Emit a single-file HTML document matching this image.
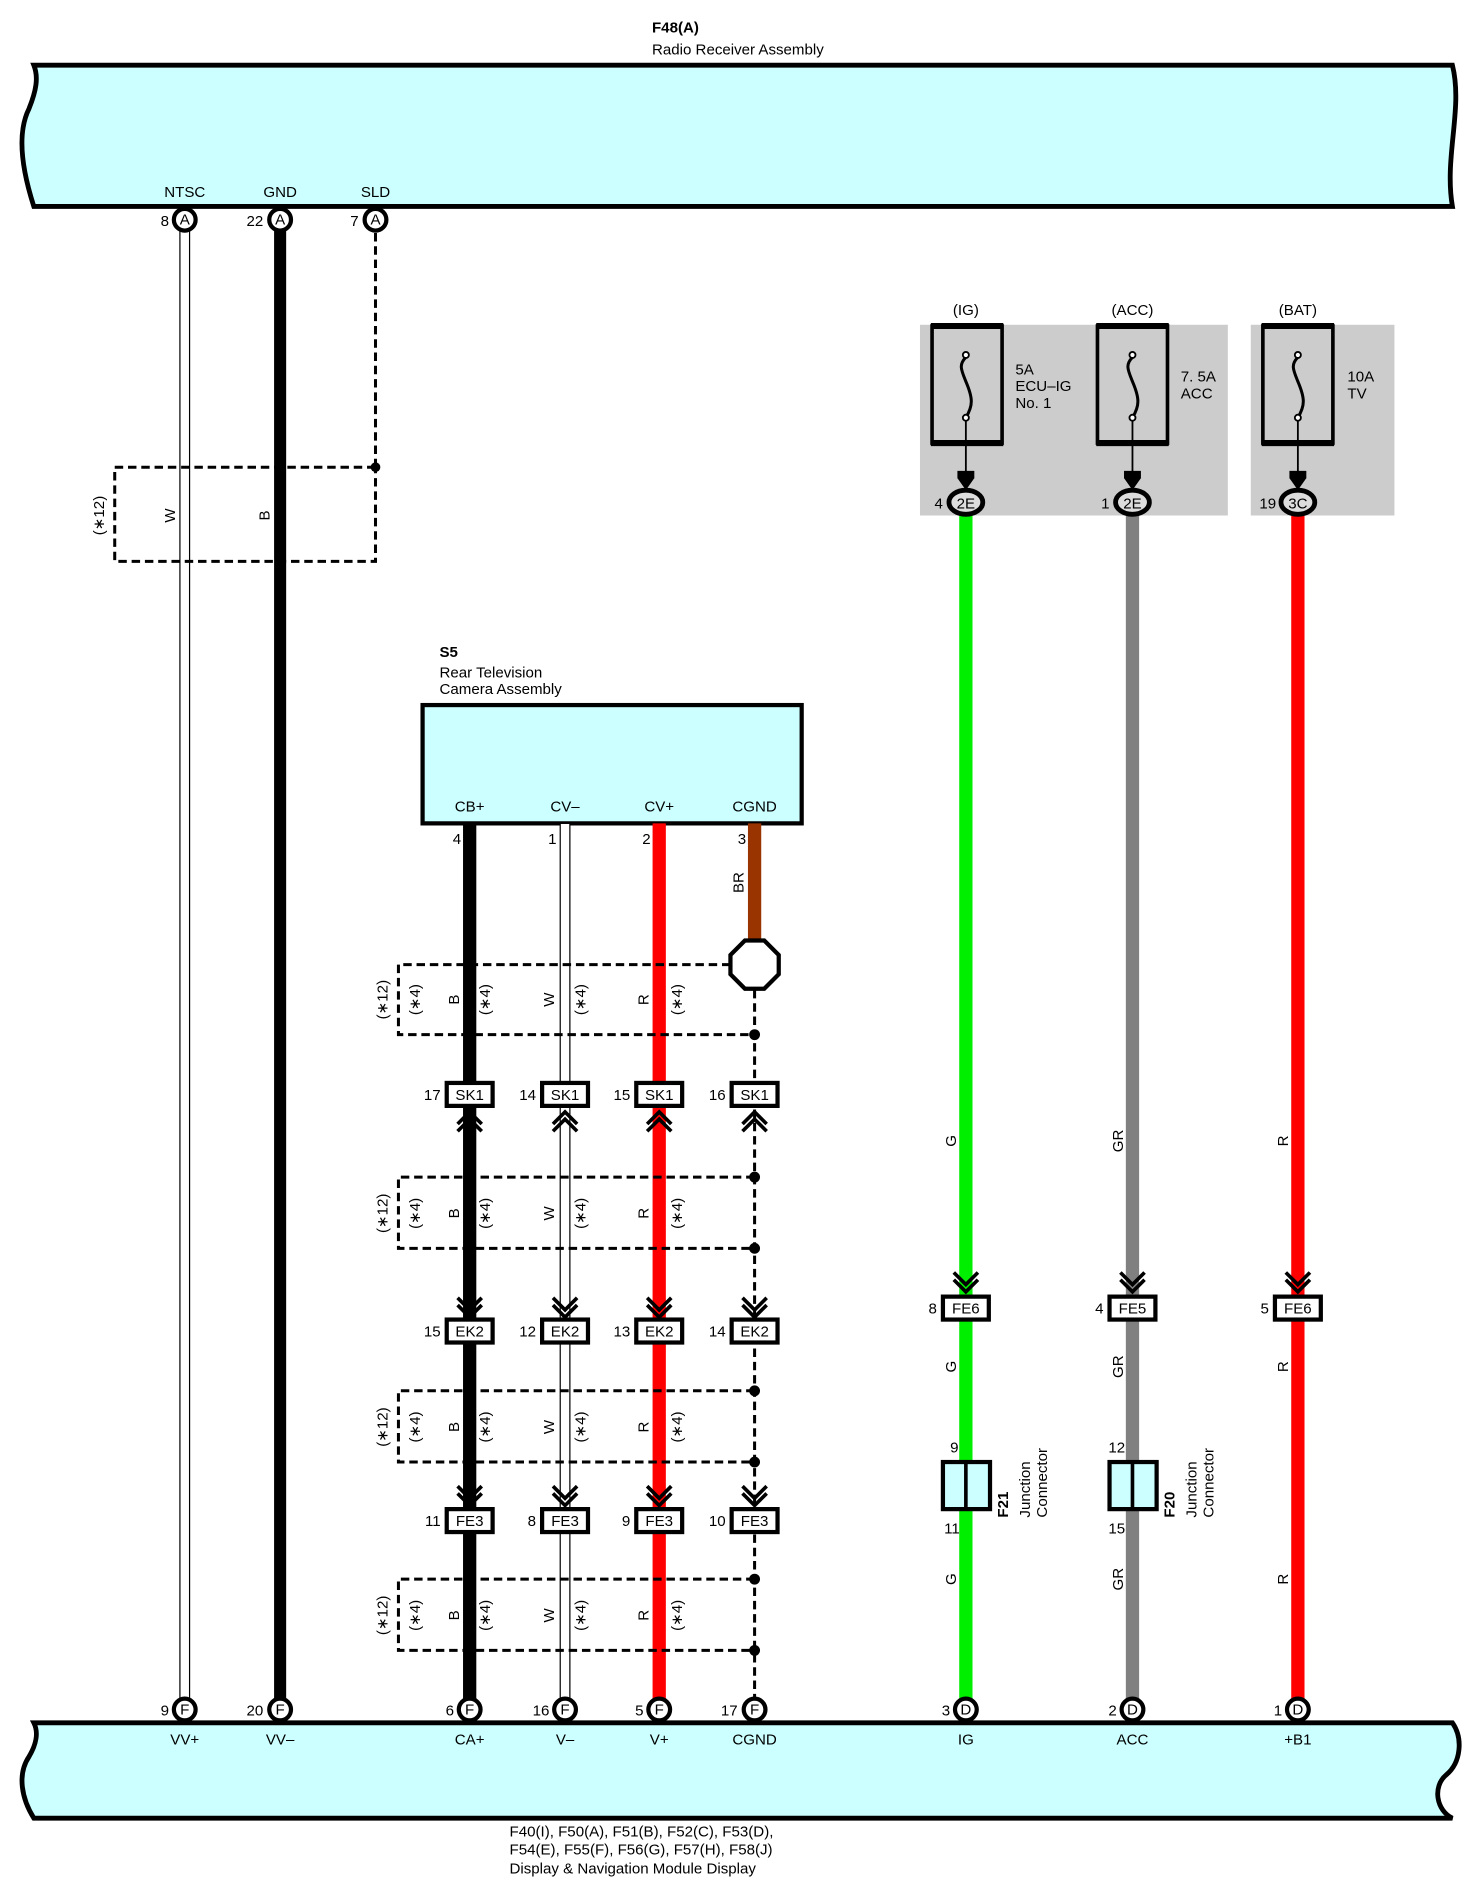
<!DOCTYPE html>
<html><head><meta charset="utf-8"><style>
html,body{margin:0;padding:0;background:#fff}
svg{display:block}
text{font-family:"Liberation Sans",sans-serif;font-size:12.5px;fill:#000}
.b{font-weight:bold}
.ds{stroke:#000;stroke-width:2.5;stroke-dasharray:7,4;fill:none}
.cn{fill:#fff;stroke:#000;stroke-width:3.5}
.ch{fill:none;stroke:#000;stroke-width:3}
</style></head><body>
<svg width="1479" height="1887" viewBox="0 0 1225 1563" xmlns="http://www.w3.org/2000/svg">
<!-- top box -->
<path d="M28,54 L1203,54 C1212,90 1196,130 1203,171 L28,171 C18,140 14,110 24,90 C30,75 32,64 28,54 Z" fill="#ccffff" stroke="#000" stroke-width="4"/>
<text x="540" y="27" class="b" font-size="13">F48(A)</text>
<text x="540" y="45">Radio Receiver Assembly</text>
<text x="153" y="163" text-anchor="middle">NTSC</text>
<text x="232" y="163" text-anchor="middle">GND</text>
<text x="311" y="163" text-anchor="middle">SLD</text>

<!-- bottom box -->
<path d="M28,1427 L1203,1427 C1212,1440 1210,1460 1198,1470 C1186,1480 1190,1500 1203,1506 L28,1506 C18,1490 14,1470 24,1455 C30,1445 32,1435 28,1427 Z" fill="#ccffff" stroke="#000" stroke-width="4"/>
<g text-anchor="middle">
<text x="153" y="1445">VV+</text><text x="232" y="1445">VV–</text><text x="389" y="1445">CA+</text><text x="468" y="1445">V–</text><text x="546" y="1445">V+</text><text x="625" y="1445">CGND</text><text x="800" y="1445">IG</text><text x="938" y="1445">ACC</text><text x="1075" y="1445">+B1</text>
</g>
<text x="422" y="1521">F40(I), F50(A), F51(B), F52(C), F53(D),</text>
<text x="422" y="1536">F54(E), F55(F), F56(G), F57(H), F58(J)</text>
<text x="422" y="1552">Display &amp; Navigation Module Display</text>

<!-- left wires -->
<rect x="149" y="182" width="8" height="1234" fill="#fff" stroke="#000" stroke-width="1"/>
<line x1="232" y1="182" x2="232" y2="1416" stroke="#000" stroke-width="10"/>
<line x1="311" y1="182" x2="311" y2="387" class="ds"/>
<path d="M311,387 L95,387 L95,465 L311,465 L311,387" class="ds"/>
<circle cx="311" cy="387" r="4"/>
<text transform="translate(86,427) rotate(-90)" text-anchor="middle">(∗12)</text>
<text transform="translate(145,427) rotate(-90)" text-anchor="middle">W</text>
<text transform="translate(223,427) rotate(-90)" text-anchor="middle">B</text>

<!-- fuses -->
<rect x="762" y="269" width="255" height="158" fill="#cccccc"/>
<rect x="1036" y="269" width="119" height="158" fill="#cccccc"/>
<g text-anchor="middle"><text x="800" y="261">(IG)</text><text x="938" y="261">(ACC)</text><text x="1075" y="261">(BAT)</text></g>
<g fill="none" stroke="#000">
<rect x="772" y="270" width="58" height="97" stroke-width="3"/><line x1="771" y1="270" x2="831" y2="270" stroke-width="5"/><line x1="771" y1="367" x2="831" y2="367" stroke-width="5"/>
<rect x="909" y="270" width="58" height="97" stroke-width="3"/><line x1="908" y1="270" x2="968" y2="270" stroke-width="5"/><line x1="908" y1="367" x2="968" y2="367" stroke-width="5"/>
<rect x="1046" y="270" width="58" height="97" stroke-width="3"/><line x1="1045" y1="270" x2="1105" y2="270" stroke-width="5"/><line x1="1045" y1="367" x2="1105" y2="367" stroke-width="5"/>
<path d="M800,296 C794,302 796,306 800,316 C806,330 806,336 800,346" stroke-width="2.5"/>
<path d="M938,296 C932,302 934,306 938,316 C944,330 944,336 938,346" stroke-width="2.5"/>
<path d="M1075,296 C1069,302 1071,306 1075,316 C1081,330 1081,336 1075,346" stroke-width="2.5"/>
<line x1="800" y1="346" x2="800" y2="395" stroke-width="1.5"/><line x1="938" y1="346" x2="938" y2="395" stroke-width="1.5"/><line x1="1075" y1="346" x2="1075" y2="395" stroke-width="1.5"/>
</g>
<g fill="#fff" stroke="#000" stroke-width="1.5"><circle cx="800" cy="294" r="2.5"/><circle cx="800" cy="346" r="2.5"/><circle cx="938" cy="294" r="2.5"/><circle cx="938" cy="346" r="2.5"/><circle cx="1075" cy="294" r="2.5"/><circle cx="1075" cy="346" r="2.5"/></g>
<g><path d="M793,390 L807,390 L807,396 L800,406 L793,396Z"/><path d="M931,390 L945,390 L945,396 L938,406 L931,396Z"/><path d="M1068,390 L1082,390 L1082,396 L1075,406 L1068,396Z"/></g>
<text x="841" y="310">5A</text><text x="841" y="324">ECU–IG</text><text x="841" y="338">No. 1</text>
<text x="978" y="316">7. 5A</text><text x="978" y="330">ACC</text>
<text x="1116" y="316">10A</text><text x="1116" y="330">TV</text>

<!-- right wires -->
<line x1="800" y1="416" x2="800" y2="1416" stroke="#00ee00" stroke-width="11"/>
<line x1="938" y1="416" x2="938" y2="1416" stroke="#808080" stroke-width="11"/>
<line x1="1075" y1="416" x2="1075" y2="1416" stroke="#ff0000" stroke-width="11"/>
<g fill="#ddd" stroke="#000" stroke-width="4"><ellipse cx="800" cy="416" rx="14" ry="10"/><ellipse cx="938" cy="416" rx="14" ry="10"/><ellipse cx="1075" cy="416" rx="14" ry="10"/></g>
<g text-anchor="middle"><text x="800" y="421">2E</text><text x="938" y="421">2E</text><text x="1075" y="421">3C</text></g>
<text x="781" y="421" text-anchor="end">4</text><text x="919" y="421" text-anchor="end">1</text><text x="1057" y="421" text-anchor="end">19</text>
<g text-anchor="middle">
<text transform="translate(792,945) rotate(-90)">G</text><text transform="translate(930,945) rotate(-90)">GR</text><text transform="translate(1067,945) rotate(-90)">R</text>
<text transform="translate(792,1132) rotate(-90)">G</text><text transform="translate(930,1132) rotate(-90)">GR</text><text transform="translate(1067,1132) rotate(-90)">R</text>
<text transform="translate(792,1308) rotate(-90)">G</text><text transform="translate(930,1308) rotate(-90)">GR</text><text transform="translate(1067,1308) rotate(-90)">R</text>
</g>
<!-- FE6/FE5 -->
<g class="ch"><path d="M790,1054 L800,1064 L810,1054 M790,1060 L800,1070 L810,1060"/><path d="M928,1054 L938,1064 L948,1054 M928,1060 L938,1070 L948,1060"/><path d="M1065,1054 L1075,1064 L1085,1054 M1065,1060 L1075,1070 L1085,1060"/></g>
<g class="cn"><rect x="781" y="1074" width="38" height="19"/><rect x="919" y="1074" width="38" height="19"/><rect x="1056" y="1074" width="38" height="19"/></g>
<g text-anchor="middle"><text x="800" y="1088">FE6</text><text x="938" y="1088">FE5</text><text x="1075" y="1088">FE6</text></g>
<text x="776" y="1088" text-anchor="end">8</text><text x="914" y="1088" text-anchor="end">4</text><text x="1051" y="1088" text-anchor="end">5</text>
<!-- junction -->
<g fill="#ccffff" stroke="#000" stroke-width="3.5"><rect x="781" y="1211" width="39" height="39"/><rect x="919" y="1211" width="39" height="39"/></g>
<line x1="800" y1="1211" x2="800" y2="1250" stroke="#000" stroke-width="3"/><line x1="938" y1="1211" x2="938" y2="1250" stroke="#000" stroke-width="3"/>
<text x="787" y="1203">9</text><text x="782" y="1270">11</text><text x="918" y="1203">12</text><text x="918" y="1270">15</text>
<text transform="translate(835,1257) rotate(-90)" class="b">F21</text><text transform="translate(853,1257) rotate(-90)">Junction</text><text transform="translate(867,1257) rotate(-90)">Connector</text>
<text transform="translate(973,1257) rotate(-90)" class="b">F20</text><text transform="translate(991,1257) rotate(-90)">Junction</text><text transform="translate(1005,1257) rotate(-90)">Connector</text>

<!-- S5 -->
<text x="364" y="544" class="b" font-size="13">S5</text>
<text x="364" y="561">Rear Television</text>
<text x="364" y="575">Camera Assembly</text>
<rect x="350" y="584" width="314" height="98" fill="#ccffff" stroke="#000" stroke-width="3.5"/>
<g text-anchor="middle"><text x="389" y="672">CB+</text><text x="468" y="672">CV–</text><text x="546" y="672">CV+</text><text x="625" y="672">CGND</text></g>
<text x="375" y="699">4</text><text x="454" y="699">1</text><text x="532" y="699">2</text><text x="611" y="699">3</text>
<line x1="389" y1="682" x2="389" y2="1416" stroke="#000" stroke-width="11"/>
<rect x="464" y="682" width="8" height="734" fill="#fff" stroke="#000" stroke-width="1"/>
<line x1="546" y1="682" x2="546" y2="1416" stroke="#ff0000" stroke-width="11"/>
<line x1="625" y1="682" x2="625" y2="780" stroke="#993300" stroke-width="11"/>
<text transform="translate(616,731) rotate(-90)" text-anchor="middle">BR</text>
<line x1="625" y1="820" x2="625" y2="1416" class="ds"/>
<!-- shield boxes (right edge is the dashed CGND line) -->
<path d="M605,799 L330,799 L330,857 L625,857" class="ds"/>
<path d="M625,975 L330,975 L330,1034 L625,1034" class="ds"/>
<path d="M625,1152 L330,1152 L330,1211 L625,1211" class="ds"/>
<path d="M625,1308 L330,1308 L330,1367 L625,1367" class="ds"/>
<polygon points="617,779 633,779 645,791 645,807 633,819 617,819 605,807 605,791" fill="#fff" stroke="#000" stroke-width="3.5"/>
<g><circle cx="625" cy="857" r="4.5"/><circle cx="625" cy="975" r="4.5"/><circle cx="625" cy="1034" r="4.5"/><circle cx="625" cy="1152" r="4.5"/><circle cx="625" cy="1211" r="4.5"/><circle cx="625" cy="1308" r="4.5"/><circle cx="625" cy="1367" r="4.5"/></g>
<g text-anchor="middle" font-size="12">
<text transform="translate(321,828) rotate(-90)">(∗12)</text><text transform="translate(348,828) rotate(-90)">(∗4)</text><text transform="translate(380,828) rotate(-90)">B</text><text transform="translate(406,828) rotate(-90)">(∗4)</text><text transform="translate(459,828) rotate(-90)">W</text><text transform="translate(485,828) rotate(-90)">(∗4)</text><text transform="translate(537,828) rotate(-90)">R</text><text transform="translate(565,828) rotate(-90)">(∗4)</text>
<text transform="translate(321,1005) rotate(-90)">(∗12)</text><text transform="translate(348,1005) rotate(-90)">(∗4)</text><text transform="translate(380,1005) rotate(-90)">B</text><text transform="translate(406,1005) rotate(-90)">(∗4)</text><text transform="translate(459,1005) rotate(-90)">W</text><text transform="translate(485,1005) rotate(-90)">(∗4)</text><text transform="translate(537,1005) rotate(-90)">R</text><text transform="translate(565,1005) rotate(-90)">(∗4)</text>
<text transform="translate(321,1182) rotate(-90)">(∗12)</text><text transform="translate(348,1182) rotate(-90)">(∗4)</text><text transform="translate(380,1182) rotate(-90)">B</text><text transform="translate(406,1182) rotate(-90)">(∗4)</text><text transform="translate(459,1182) rotate(-90)">W</text><text transform="translate(485,1182) rotate(-90)">(∗4)</text><text transform="translate(537,1182) rotate(-90)">R</text><text transform="translate(565,1182) rotate(-90)">(∗4)</text>
<text transform="translate(321,1338) rotate(-90)">(∗12)</text><text transform="translate(348,1338) rotate(-90)">(∗4)</text><text transform="translate(380,1338) rotate(-90)">B</text><text transform="translate(406,1338) rotate(-90)">(∗4)</text><text transform="translate(459,1338) rotate(-90)">W</text><text transform="translate(485,1338) rotate(-90)">(∗4)</text><text transform="translate(537,1338) rotate(-90)">R</text><text transform="translate(565,1338) rotate(-90)">(∗4)</text>
</g>
<!-- arrows -->
<g class="ch" stroke-width="3.5">
<path d="M379,931 L389,921 L399,931 M379,937 L389,927 L399,937"/><path d="M458,931 L468,921 L478,931 M458,937 L468,927 L478,937"/><path d="M536,931 L546,921 L556,931 M536,937 L546,927 L556,937"/><path d="M615,931 L625,921 L635,931 M615,937 L625,927 L635,937"/>
<path d="M379,1075 L389,1085 L399,1075 M379,1081 L389,1091 L399,1081"/><path d="M458,1075 L468,1085 L478,1075 M458,1081 L468,1091 L478,1081"/><path d="M536,1075 L546,1085 L556,1075 M536,1081 L546,1091 L556,1081"/><path d="M615,1075 L625,1085 L635,1075 M615,1081 L625,1091 L635,1081"/>
<path d="M379,1231 L389,1241 L399,1231 M379,1237 L389,1247 L399,1237"/><path d="M458,1231 L468,1241 L478,1231 M458,1237 L468,1247 L478,1237"/><path d="M536,1231 L546,1241 L556,1231 M536,1237 L546,1247 L556,1237"/><path d="M615,1231 L625,1241 L635,1231 M615,1237 L625,1247 L635,1237"/>
</g>
<g class="cn">
<rect x="370" y="897" width="38" height="19"/><rect x="449" y="897" width="38" height="19"/><rect x="527" y="897" width="38" height="19"/><rect x="606" y="897" width="38" height="19"/>
<rect x="370" y="1093" width="38" height="19"/><rect x="449" y="1093" width="38" height="19"/><rect x="527" y="1093" width="38" height="19"/><rect x="606" y="1093" width="38" height="19"/>
<rect x="370" y="1250" width="38" height="19"/><rect x="449" y="1250" width="38" height="19"/><rect x="527" y="1250" width="38" height="19"/><rect x="606" y="1250" width="38" height="19"/>
</g>
<g text-anchor="middle">
<text x="389" y="911">SK1</text><text x="468" y="911">SK1</text><text x="546" y="911">SK1</text><text x="625" y="911">SK1</text>
<text x="389" y="1107">EK2</text><text x="468" y="1107">EK2</text><text x="546" y="1107">EK2</text><text x="625" y="1107">EK2</text>
<text x="389" y="1264">FE3</text><text x="468" y="1264">FE3</text><text x="546" y="1264">FE3</text><text x="625" y="1264">FE3</text>
</g>
<g text-anchor="end">
<text x="365" y="911">17</text><text x="444" y="911">14</text><text x="522" y="911">15</text><text x="601" y="911">16</text>
<text x="365" y="1107">15</text><text x="444" y="1107">12</text><text x="522" y="1107">13</text><text x="601" y="1107">14</text>
<text x="365" y="1264">11</text><text x="444" y="1264">8</text><text x="522" y="1264">9</text><text x="601" y="1264">10</text>
</g>

<!-- terminals -->
<g fill="#fff" stroke="#000" stroke-width="3.5">
<circle cx="153" cy="182" r="9"/><circle cx="232" cy="182" r="9"/><circle cx="311" cy="182" r="9"/>
<circle cx="153" cy="1416" r="9"/><circle cx="232" cy="1416" r="9"/><circle cx="389" cy="1416" r="9"/><circle cx="468" cy="1416" r="9"/><circle cx="546" cy="1416" r="9"/><circle cx="625" cy="1416" r="9"/><circle cx="800" cy="1416" r="9"/><circle cx="938" cy="1416" r="9"/><circle cx="1075" cy="1416" r="9"/>
</g>
<g text-anchor="middle" font-size="11.5">
<text x="153" y="186">A</text><text x="232" y="186">A</text><text x="311" y="186">A</text>
<text x="153" y="1420">F</text><text x="232" y="1420">F</text><text x="389" y="1420">F</text><text x="468" y="1420">F</text><text x="546" y="1420">F</text><text x="625" y="1420">F</text><text x="800" y="1420">D</text><text x="938" y="1420">D</text><text x="1075" y="1420">D</text>
</g>
<g text-anchor="end">
<text x="140" y="187">8</text><text x="218" y="187">22</text><text x="297" y="187">7</text>
<text x="140" y="1421">9</text><text x="218" y="1421">20</text><text x="376" y="1421">6</text><text x="455" y="1421">16</text><text x="533" y="1421">5</text><text x="611" y="1421">17</text><text x="787" y="1421">3</text><text x="925" y="1421">2</text><text x="1062" y="1421">1</text>
</g>
</svg>
</body></html>
